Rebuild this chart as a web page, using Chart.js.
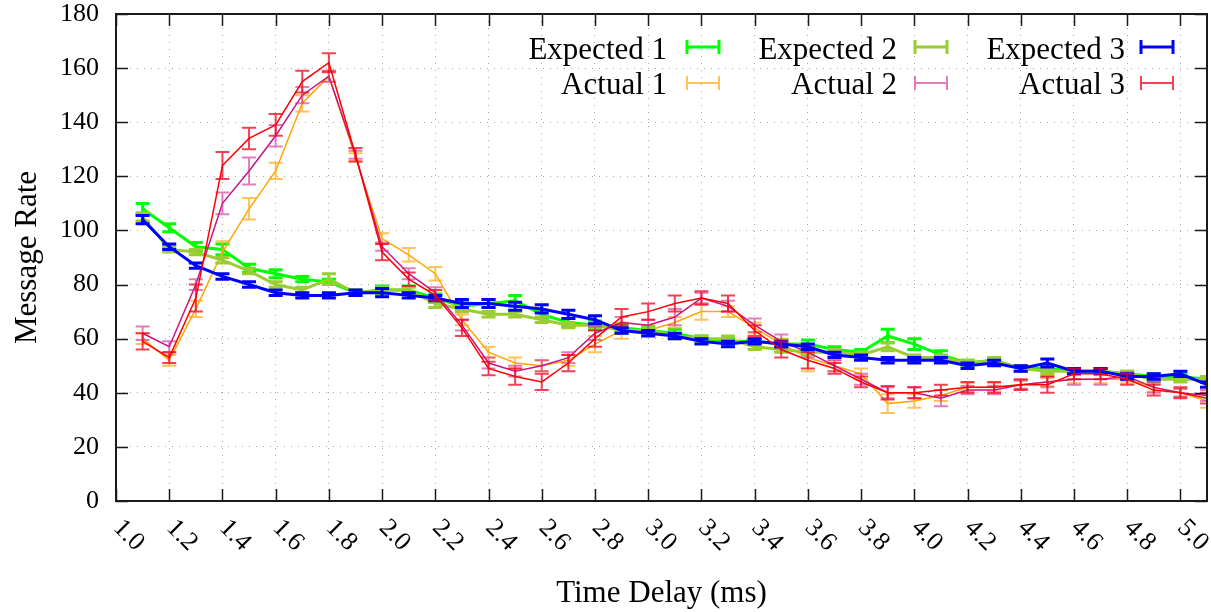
<!DOCTYPE html>
<html>
<head>
<meta charset="utf-8">
<script src="https://cdn.jsdelivr.net/npm/chart.js@4.4.1/dist/chart.umd.min.js"></script>
<style>
  html, body { margin: 0; padding: 0; background: #fff; }
  #wrap { width: 1211px; height: 612px; }
</style>
</head>
<body>
<div id="wrap"><canvas id="chart" width="1211" height="612"></canvas></div>
<script>
// time delay (ms), one point every 0.1
const delays = [1.1, 1.2, 1.3, 1.4, 1.5, 1.6, 1.7, 1.8, 1.9, 2.0,
  2.1, 2.2, 2.3, 2.4, 2.5, 2.6, 2.7, 2.8, 2.9, 3.0,
  3.1, 3.2, 3.3, 3.4, 3.5, 3.6, 3.7, 3.8, 3.9, 4.0,
  4.1, 4.2, 4.3, 4.4, 4.5, 4.6, 4.7, 4.8, 4.9, 5.0, 5.1];

const expected1 = [108, 101, 94, 93, 86, 84, 82, 81, 77, 78, 78, 75, 72, 73, 74, 69, 66, 65, 64, 63,
  62, 60, 59, 59, 58, 58, 56, 55, 61, 58, 54, 51, 52, 49, 49, 48, 48, 47, 46, 46, 45];
const expected2 = [105, 93, 92, 89, 85, 80, 78, 82, 77, 78, 78, 73, 71, 69, 69, 67, 65, 65, 63, 63,
  61, 60, 60, 57, 56, 55, 55, 54, 57, 53, 53, 51, 52, 49, 48, 48, 48, 47, 45, 45, 45];
const expected3 = [104, 94, 87, 83, 80, 77, 76, 76, 77, 77, 76, 75, 73, 73, 72, 71, 69, 67, 63, 62,
  61, 59, 58, 59, 58, 57, 54, 53, 52, 52, 52, 50, 51, 49, 51, 48, 48, 46, 46, 47, 43];
const actual1 = [60, 52, 71, 92, 108, 122, 147, 157, 127, 97, 91, 84, 67, 55, 51, 50, 52, 58, 63, 63,
  66, 70, 70, 64, 58, 53, 50, 47, 36, 37, 39, 42, 42, 43, 44, 45, 45, 45, 42, 40, 37];
const actual2 = [62, 57, 80, 110, 122, 135, 150, 157, 128, 94, 84, 77, 65, 51, 48, 50, 53, 62, 66, 65,
  68, 75, 72, 65, 59, 55, 50, 45, 40, 40, 38, 41, 41, 43, 44, 45, 45, 46, 42, 40, 39];
const actual3 = [59, 53, 75, 124, 134, 139, 155, 162, 128, 92, 82, 76, 64, 49, 46, 44, 51, 60, 68, 70,
  73, 75, 73, 63, 56, 52, 49, 44, 40, 40, 41, 42, 42, 43, 43, 47, 47, 45, 41, 40, 38];

// error bar half heights
const expected1Err = [2, 1.5, 1.5, 2, 1.5, 1.5, 1, 1, 1, 1.5, 1.5, 1.5, 1.5, 1.5, 2, 1.5, 1.5, 1.5, 1.5, 1.5,
  1.5, 1, 1, 1, 1.5, 1.5, 1, 1, 2.5, 2, 1.5, 1, 1, 1, 1, 1, 1, 1, 1, 1, 1];
const expected2Err = [1.5, 1, 1, 1, 1, 1, 1, 2, 1, 1, 1, 1.5, 1, 1, 1, 1, 1, 1, 1, 1,
  1, 1, 1, 1, 1, 1, 1, 1, 1.5, 1, 1, 1, 1, 1, 1, 1, 1, 1, 1, 1, 1];
const expected3Err = [1.5, 1, 1, 1, 1, 1, 1, 1, 1, 1.5, 1, 1, 1.5, 1.5, 1.5, 1.5, 1.5, 1.5, 1, 1,
  1, 1, 1, 1, 1, 1, 1, 1, 1, 1, 1, 1, 1, 1, 1.5, 1, 1, 1, 1, 1, 1];
const actual1Err = [2, 2, 3, 4, 4, 3, 3, 2, 1.5, 2, 2.5, 2.5, 2, 2, 2, 2, 2, 3, 3, 2,
  2, 3, 2, 2, 2, 5, 2, 2, 3.5, 2.5, 2, 1.5, 1.5, 1.5, 1.5, 1.5, 1.5, 1.5, 1.5, 1.5, 2.5];
const actual2Err = [2.5, 2, 2, 4, 5, 4, 3, 2, 1.5, 1.5, 2, 2, 2, 2, 2, 2, 2, 2.5, 2, 2,
  3, 2, 2, 2.5, 2.5, 2, 2, 2, 2, 2, 3, 1.5, 1.5, 1.5, 2, 2, 2, 1.5, 2, 1.5, 2];
const actual3Err = [3, 2, 5, 5, 4, 4, 4, 3.5, 2.5, 3, 2.5, 2, 3, 2.5, 3, 3, 3, 3, 3, 3,
  3, 2.5, 3, 2, 3, 3, 2, 2, 2.5, 2, 2, 2, 2, 2, 3, 2, 2, 2, 2, 2, 2];

const xTickStep = 0.2;
const FONT = "'Liberation Serif', 'Times New Roman', serif";

// gnuplot key order: column by column
const series = [
  { label: 'Expected 1', values: expected1, err: expected1Err, color: '#00ff00', bar: '#00ff00', width: 3 },
  { label: 'Actual 1', values: actual1, err: actual1Err, color: '#ffa500', bar: 'rgba(255,170,20,0.7)', width: 1.5 },
  { label: 'Expected 2', values: expected2, err: expected2Err, color: '#9acd32', bar: '#9acd32', width: 3 },
  { label: 'Actual 2', values: actual2, err: actual2Err, color: '#c71585', bar: 'rgba(205,40,140,0.6)', width: 1.5 },
  { label: 'Expected 3', values: expected3, err: expected3Err, color: '#0000ff', bar: '#0000ff', width: 3 },
  { label: 'Actual 3', values: actual3, err: actual3Err, color: '#ff0000', bar: 'rgba(240,0,30,0.75)', width: 1.5 }
];

const CAP = 7;

const errorBars = {
  id: 'errorBars',
  afterDatasetDraw(chart, args) {
    const ds = chart.data.datasets[args.index];
    if (!ds.errors) return;
    const xs = chart.scales.x, ys = chart.scales.y;
    const a = chart.chartArea;
    const ctx = chart.ctx;
    ctx.save();
    ctx.beginPath();
    ctx.rect(a.left, a.top, a.right - a.left, a.bottom - a.top);
    ctx.clip();
    ctx.strokeStyle = ds.errorColor;
    ctx.lineWidth = ds.errorWidth;
    ctx.beginPath();
    ds.data.forEach((p, i) => {
      const px = xs.getPixelForValue(p.x);
      const top = ys.getPixelForValue(p.y + ds.errors[i]);
      const bot = ys.getPixelForValue(p.y - ds.errors[i]);
      ctx.moveTo(px, top); ctx.lineTo(px, bot);
      ctx.moveTo(px - CAP, top); ctx.lineTo(px + CAP, top);
      ctx.moveTo(px - CAP, bot); ctx.lineTo(px + CAP, bot);
    });
    ctx.stroke();
    ctx.restore();
  }
};

// border, inward ticks, rotated x labels and the key
const frame = {
  id: 'frame',
  afterDraw(chart) {
    const ctx = chart.ctx;
    const a = chart.chartArea;
    const xs = chart.scales.x, ys = chart.scales.y;
    const TL = 12;
    ctx.save();
    ctx.strokeStyle = '#1a1a1a';
    ctx.lineWidth = 1.5;
    ctx.beginPath();
    ys.ticks.forEach(t => {
      const py = Math.round(ys.getPixelForValue(t.value)) + 0.5;
      ctx.moveTo(a.left, py); ctx.lineTo(a.left + TL, py);
      ctx.moveTo(a.right, py); ctx.lineTo(a.right - TL, py);
    });
    xs.ticks.forEach(t => {
      const px = Math.round(xs.getPixelForValue(t.value)) + 0.5;
      ctx.moveTo(px, a.bottom); ctx.lineTo(px, a.bottom - TL);
      ctx.moveTo(px, a.top); ctx.lineTo(px, a.top + TL);
    });
    ctx.stroke();
    ctx.lineWidth = 2;
    ctx.strokeRect(a.left, a.top, a.right - a.left, a.bottom - a.top);

    ctx.fillStyle = '#000';
    ctx.font = '26px ' + FONT;
    ctx.textAlign = 'left';
    ctx.textBaseline = 'middle';
    xs.ticks.forEach(t => {
      const px = xs.getPixelForValue(t.value);
      ctx.save();
      ctx.translate(px + 1, 524);
      ctx.rotate(Math.PI / 4);
      ctx.fillText(t.value.toFixed(1), 0, 0);
      ctx.restore();
    });

    // key
    const textRight = [667, 897, 1125];
    const sampleLeft = [687, 915, 1141];
    const rowBase = [59, 94];
    const rowLine = [47, 83];
    ctx.font = '31px ' + FONT;
    ctx.textAlign = 'right';
    ctx.textBaseline = 'alphabetic';
    series.forEach((s, i) => {
      const col = Math.floor(i / 2), row = i % 2;
      ctx.fillStyle = '#000';
      ctx.fillText(s.label, textRight[col], rowBase[row]);
      const x0 = sampleLeft[col], x1 = x0 + 32, y = rowLine[row];
      ctx.strokeStyle = s.bar;
      ctx.lineWidth = s.width === 3 ? 3 : 2;
      ctx.beginPath();
      ctx.moveTo(x0, y); ctx.lineTo(x1, y);
      ctx.moveTo(x0, y - 7); ctx.lineTo(x0, y + 7);
      ctx.moveTo(x1, y - 7); ctx.lineTo(x1, y + 7);
      ctx.stroke();
    });
    ctx.restore();
  }
};

const datasets = series.map((s, i) => ({
  label: s.label,
  data: delays.map((x, j) => ({ x, y: s.values[j] })),
  errors: s.err,
  errorColor: s.bar,
  errorWidth: s.width === 3 ? 3 : 2,
  borderColor: s.color,
  borderWidth: s.width,
  pointRadius: 0,
  fill: false,
  tension: 0,
  order: series.length - 1 - i
}));

new Chart(document.getElementById('chart'), {
  type: 'line',
  data: { datasets },
  options: {
    responsive: false,
    animation: false,
    devicePixelRatio: 1,
    layout: { padding: { top: 14, right: 4, left: 0, bottom: 0 } },
    plugins: { legend: { display: false }, tooltip: { enabled: false } },
    scales: {
      x: {
        type: 'linear',
        min: 1.0,
        max: 5.1,
        ticks: { display: false, stepSize: xTickStep, includeBounds: false },
        grid: { color: '#a8a8a8', lineWidth: 1, drawTicks: false },
        border: { display: false, dash: [1, 6] },
        title: {
          display: true,
          text: 'Time Delay (ms)',
          color: '#000',
          font: { family: FONT, size: 31, lineHeight: 1.2 },
          padding: { top: 0, bottom: 0 }
        },
        afterFit: s => { s.height = 111; s.paddingLeft = 0; s.paddingRight = 0; }
      },
      y: {
        min: 0,
        max: 180,
        ticks: {
          stepSize: 20,
          color: '#000',
          padding: 17,
          font: { family: FONT, size: 26, lineHeight: 1 }
        },
        grid: { color: '#a8a8a8', lineWidth: 1, drawTicks: false },
        border: { display: false, dash: [1, 6] },
        title: {
          display: true,
          text: 'Message Rate',
          color: '#000',
          font: { family: FONT, size: 31, lineHeight: 1.2 },
          padding: { top: 9, bottom: 0 }
        },
        afterFit: s => { s.width = 116; s.paddingTop = 0; s.paddingBottom = 0; }
      }
    }
  },
  plugins: [errorBars, frame]
});
</script>
</body>
</html>
